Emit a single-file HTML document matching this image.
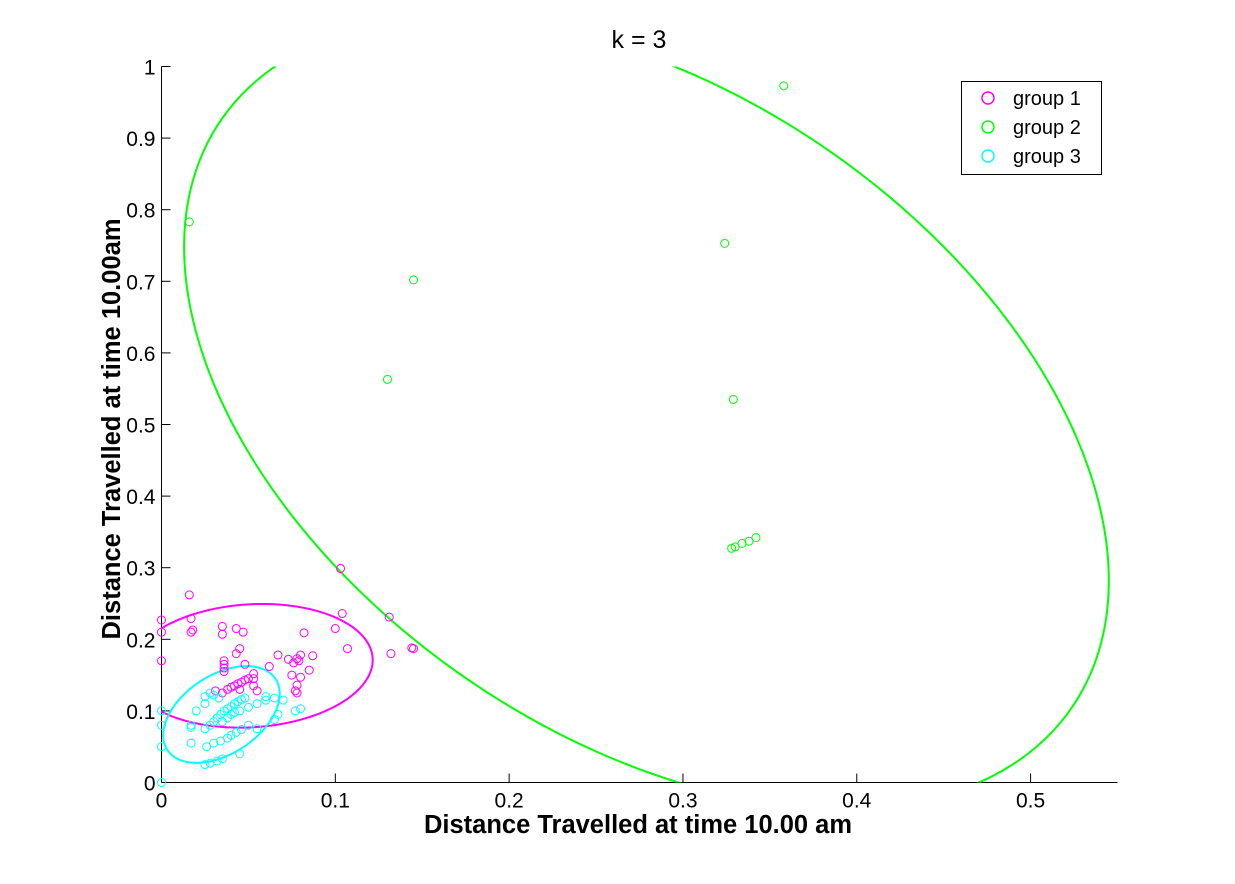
<!DOCTYPE html>
<html><head><meta charset="utf-8"><style>
body{margin:0;background:#fff;}
svg text{font-family:"Liberation Sans",sans-serif;}
</style></head><body>
<svg id="chart" width="1235" height="879" xmlns="http://www.w3.org/2000/svg">
<defs><clipPath id="clip"><rect x="161" y="66.5" width="957" height="716"/></clipPath></defs>
<text x="639" y="48" font-size="25" text-anchor="middle">k = 3</text>
<g id="axes"></g>
<g id="ellipses" clip-path="url(#clip)"></g>
<g id="points"></g>
<text x="638" y="833" font-size="25.5" font-weight="bold" text-anchor="middle">Distance Travelled at time 10.00 am</text>
<text transform="translate(120,429) rotate(-90)" font-size="25.5" font-weight="bold" text-anchor="middle">Distance Travelled at time 10.00am</text>
<g>
<rect x="961.5" y="81.5" width="140" height="93" fill="#fff" stroke="#000" stroke-width="1"/>
<g><circle cx="988" cy="98" r="6" fill="none" stroke="#ff00ff" stroke-width="1.5"/><text x="1013" y="105" font-size="20">group 1</text></g>
<g><circle cx="988" cy="127" r="6" fill="none" stroke="#00ff00" stroke-width="1.5"/><text x="1013" y="134" font-size="20">group 2</text></g>
<g><circle cx="988" cy="156" r="6" fill="none" stroke="#00ffff" stroke-width="1.5"/><text x="1013" y="163" font-size="20">group 3</text></g>
</g>
</svg>
<script>
const xTicks=[0,0.1,0.2,0.3,0.4,0.5];
const xTickLabels=["0","0.1","0.2","0.3","0.4","0.5"];
const yTicks=[0,0.1,0.2,0.3,0.4,0.5,0.6,0.7,0.8,0.9,1];
const yTickLabels=["0","0.1","0.2","0.3","0.4","0.5","0.6","0.7","0.8","0.9","1"];
const group1X=[0,0,0,0.016,0.017,0.017,0.018,0.035,0.035,0.043,0.047,0.045,0.043,0.103,0.104,0.107,0.131,0.132,0.145,0.144,0.1,0.087,0.085,0.082,0.062,0.067,0.073,0.076,0.078,0.08,0.079,0.075,0.08,0.078,0.077,0.078,0.036,0.036,0.036,0.036,0.053,0.053,0.053,0.055,0.038,0.04,0.042,0.044,0.046,0.048,0.05,0.045,0.035,0.048,0.031];
const group1Y=[0.227,0.21,0.17,0.262,0.229,0.21,0.213,0.218,0.207,0.215,0.21,0.187,0.18,0.299,0.236,0.187,0.231,0.18,0.187,0.188,0.215,0.177,0.157,0.209,0.162,0.178,0.172,0.167,0.173,0.178,0.17,0.15,0.147,0.136,0.128,0.125,0.17,0.165,0.16,0.155,0.152,0.145,0.135,0.128,0.13,0.133,0.135,0.138,0.14,0.143,0.145,0.13,0.125,0.165,0.128];
const group2X=[0.016,0.145,0.13,0.324,0.358,0.329,0.328,0.330,0.334,0.338,0.342];
const group2Y=[0.783,0.702,0.563,0.753,0.973,0.535,0.327,0.329,0.334,0.337,0.342];
const group3X=[0,0,0,0,0.017,0.017,0.017,0.025,0.028,0.032,0.035,0.026,0.03,0.034,0.038,0.04,0.043,0.046,0.025,0.028,0.03,0.032,0.034,0.036,0.038,0.04,0.042,0.044,0.046,0.048,0.035,0.038,0.04,0.042,0.045,0.05,0.055,0.06,0.065,0.025,0.025,0.028,0.03,0.033,0.05,0.055,0.065,0.067,0.07,0.077,0.08,0.045,0.06,0.02];
const group3Y=[0.1,0.08,0.05,0,0.08,0.077,0.055,0.025,0.027,0.03,0.033,0.05,0.055,0.058,0.062,0.066,0.07,0.074,0.075,0.08,0.085,0.09,0.095,0.1,0.103,0.106,0.11,0.113,0.116,0.118,0.085,0.09,0.095,0.098,0.1,0.105,0.11,0.115,0.118,0.11,0.12,0.125,0.122,0.118,0.08,0.075,0.088,0.095,0.115,0.1,0.103,0.04,0.12,0.1];
const ellipseCx=[0.0515,0.279,0.0345];
const ellipseCy=[0.163,0.515,0.095];
const ellipseUx=[0.07,0.266,0.0335];
const ellipseUy=[0.008,-0.233,0.029];
const ellipseVy=[0.086,0.500,0.061];
const colors=["#ff00ff","#00ff00","#00ffff"];
const X0=161.5,X1=1117.5,Y0=782.5,Y1=66.5;
const sx=v=>X0+v/0.55*(X1-X0);
const sy=v=>Y0-v*(Y0-Y1);
const NS="http://www.w3.org/2000/svg";
function mk(tag,attrs,parent){const e=document.createElementNS(NS,tag);for(const k in attrs)e.setAttribute(k,attrs[k]);parent.appendChild(e);return e;}
const ax=document.getElementById('axes');
let l=mk('line',{x1:X0,y1:Y0,x2:X1,y2:Y0,stroke:'#000'},ax);


l=mk('line',{x1:X0,y1:Y0,x2:X0,y2:Y1,stroke:'#000'},ax);


xTicks.forEach((t,i)=>{const x=sx(t);
 mk('line',{x1:x,y1:Y0,x2:x,y2:Y0-9,stroke:'#000'},ax);
 const tx=mk('text',{x:x,y:Y0+25,'font-size':21,'text-anchor':'middle'},ax);tx.textContent=xTickLabels[i];
 
 });
yTicks.forEach((t,i)=>{const y=sy(t);
 mk('line',{x1:X0,y1:y,x2:X0+9,y2:y,stroke:'#000'},ax);
 const tx=mk('text',{x:X0-6,y:y+8,'font-size':21,'text-anchor':'end'},ax);tx.textContent=yTickLabels[i];
 
 });
const eg=document.getElementById('ellipses');
for(let k=0;k<3;k++){let d='';for(let i=0;i<=360;i++){const t=i*Math.PI/180;
 const x=ellipseCx[k]+ellipseUx[k]*Math.cos(t);const y=ellipseCy[k]+ellipseUy[k]*Math.cos(t)+ellipseVy[k]*Math.sin(t);
 d+=(i?'L':'M')+sx(x).toFixed(2)+','+sy(y).toFixed(2);}
 const p=mk('path',{d:d,fill:'none',stroke:colors[k],'stroke-width':2},eg);
 
 }
const pg=document.getElementById('points');
[[group1X,group1Y],[group2X,group2Y],[group3X,group3Y]].forEach((g,k)=>{g[0].forEach((x,i)=>{
 const c=mk('circle',{cx:sx(x),cy:sy(g[1][i]),r:4,fill:'none',stroke:colors[k],'stroke-width':1},pg);
 
 });});
</script>
</body></html>
